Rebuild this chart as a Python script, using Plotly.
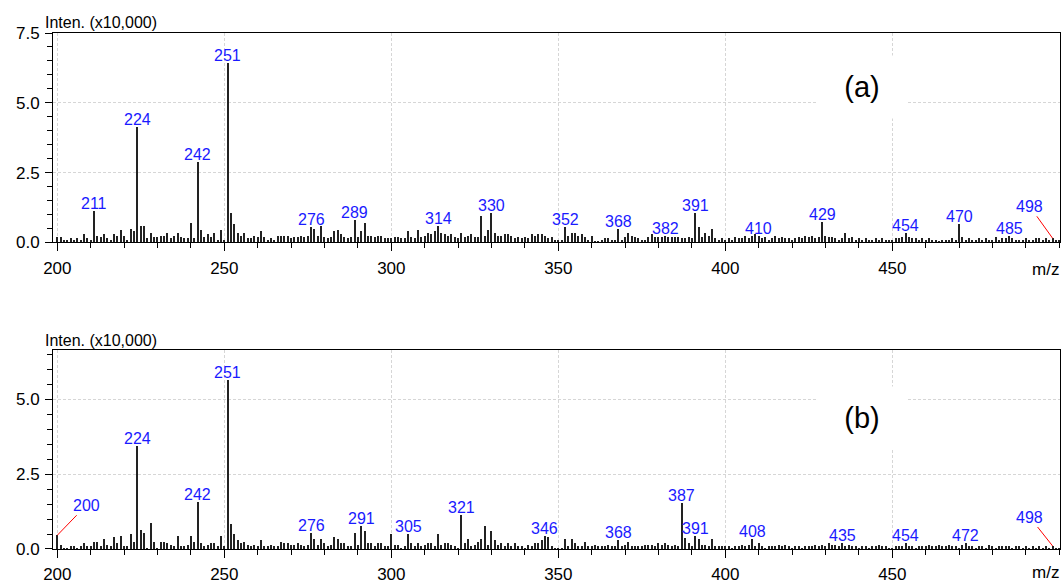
import plotly.graph_objects as go

# ---------------- data ----------------
mz = list(range(200, 501))

inten_a = [
    0.20, 0.20, 0.10, 0.10, 0.15, 0.10, 0.15, 0.10, 0.30, 0.15,  # 200
    0.10, 1.13, 0.25, 0.20, 0.30, 0.15, 0.10, 0.30, 0.25, 0.45,  # 210
    0.25, 0.10, 0.50, 0.40, 4.14, 0.60, 0.60, 0.15, 0.35, 0.20,  # 220
    0.20, 0.25, 0.25, 0.35, 0.15, 0.25, 0.35, 0.20, 0.15, 0.15,  # 230
    0.70, 0.15, 2.88, 0.45, 0.20, 0.30, 0.20, 0.35, 0.10, 0.45,  # 240
    0.10, 6.41, 1.04, 0.66, 0.35, 0.25, 0.35, 0.15, 0.15, 0.25,  # 250
    0.20, 0.40, 0.20, 0.10, 0.15, 0.10, 0.25, 0.25, 0.25, 0.25,  # 260
    0.15, 0.20, 0.20, 0.25, 0.20, 0.25, 0.55, 0.50, 0.25, 0.60,  # 270
    0.20, 0.15, 0.20, 0.40, 0.45, 0.30, 0.20, 0.15, 0.20, 0.80,  # 280
    0.20, 0.40, 0.70, 0.25, 0.25, 0.20, 0.25, 0.25, 0.15, 0.15,  # 290
    0.15, 0.20, 0.20, 0.15, 0.15, 0.40, 0.20, 0.15, 0.45, 0.20,  # 300
    0.25, 0.35, 0.30, 0.40, 0.60, 0.35, 0.30, 0.25, 0.30, 0.20,  # 310
    0.15, 0.35, 0.20, 0.25, 0.30, 0.20, 0.20, 0.95, 0.25, 0.45,  # 320
    1.04, 0.35, 0.25, 0.25, 0.30, 0.30, 0.25, 0.15, 0.20, 0.15,  # 330
    0.20, 0.15, 0.30, 0.25, 0.30, 0.30, 0.25, 0.15, 0.20, 0.10,  # 340
    0.10, 0.10, 0.55, 0.25, 0.35, 0.35, 0.25, 0.30, 0.20, 0.10,  # 350
    0.25, 0.05, 0.05, 0.10, 0.15, 0.15, 0.10, 0.10, 0.50, 0.10,  # 360
    0.20, 0.35, 0.25, 0.20, 0.15, 0.10, 0.10, 0.20, 0.30, 0.20,  # 370
    0.20, 0.20, 0.25, 0.20, 0.20, 0.20, 0.20, 0.15, 0.15, 0.20,  # 380
    0.15, 1.07, 0.55, 0.20, 0.35, 0.25, 0.50, 0.15, 0.10, 0.15,  # 390
    0.10, 0.15, 0.10, 0.20, 0.15, 0.15, 0.25, 0.15, 0.25, 0.30,  # 400
    0.25, 0.15, 0.20, 0.10, 0.15, 0.25, 0.15, 0.20, 0.15, 0.15,  # 410
    0.10, 0.15, 0.20, 0.15, 0.25, 0.20, 0.25, 0.15, 0.20, 0.72,  # 420
    0.25, 0.20, 0.20, 0.15, 0.10, 0.15, 0.35, 0.15, 0.20, 0.10,  # 430
    0.15, 0.10, 0.15, 0.10, 0.10, 0.15, 0.10, 0.15, 0.10, 0.10,  # 440
    0.10, 0.15, 0.15, 0.20, 0.33, 0.20, 0.15, 0.15, 0.10, 0.15,  # 450
    0.10, 0.15, 0.10, 0.10, 0.05, 0.10, 0.10, 0.10, 0.15, 0.10,  # 460
    0.68, 0.20, 0.10, 0.15, 0.10, 0.10, 0.15, 0.10, 0.15, 0.10,  # 470
    0.10, 0.20, 0.10, 0.15, 0.15, 0.25, 0.15, 0.10, 0.10, 0.10,  # 480
    0.15, 0.10, 0.10, 0.15, 0.15, 0.10, 0.15, 0.10, 0.15, 0.10,  # 490
    0.10,                                                        # 500
]

inten_b = [
    0.46, 0.15, 0.05, 0.05, 0.10, 0.10, 0.05, 0.10, 0.20, 0.10,  # 200
    0.10, 0.25, 0.25, 0.10, 0.35, 0.15, 0.10, 0.40, 0.20, 0.45,  # 210
    0.10, 0.10, 0.50, 0.25, 3.43, 0.65, 0.55, 0.05, 0.87, 0.25,  # 220
    0.05, 0.25, 0.25, 0.20, 0.15, 0.10, 0.45, 0.10, 0.10, 0.15,  # 230
    0.45, 0.25, 1.57, 0.20, 0.10, 0.15, 0.20, 0.20, 0.10, 0.45,  # 240
    0.10, 5.66, 0.85, 0.50, 0.30, 0.20, 0.25, 0.15, 0.10, 0.15,  # 250
    0.10, 0.30, 0.10, 0.10, 0.15, 0.10, 0.10, 0.25, 0.20, 0.20,  # 260
    0.15, 0.15, 0.20, 0.15, 0.10, 0.15, 0.55, 0.35, 0.15, 0.35,  # 270
    0.20, 0.10, 0.15, 0.40, 0.35, 0.20, 0.20, 0.10, 0.10, 0.52,  # 280
    0.15, 0.76, 0.60, 0.20, 0.20, 0.10, 0.20, 0.20, 0.10, 0.10,  # 290
    0.50, 0.15, 0.15, 0.05, 0.10, 0.50, 0.20, 0.10, 0.20, 0.10,  # 300
    0.15, 0.20, 0.20, 0.10, 0.50, 0.15, 0.20, 0.20, 0.15, 0.10,  # 310
    0.05, 1.15, 0.20, 0.35, 0.10, 0.15, 0.25, 0.35, 0.78, 0.15,  # 320
    0.60, 0.30, 0.15, 0.20, 0.10, 0.20, 0.10, 0.20, 0.10, 0.10,  # 330
    0.05, 0.15, 0.10, 0.20, 0.20, 0.30, 0.42, 0.40, 0.10, 0.05,  # 340
    0.05, 0.05, 0.35, 0.10, 0.35, 0.20, 0.10, 0.10, 0.25, 0.10,  # 350
    0.10, 0.15, 0.10, 0.10, 0.10, 0.15, 0.10, 0.10, 0.30, 0.10,  # 360
    0.15, 0.25, 0.10, 0.10, 0.10, 0.10, 0.15, 0.15, 0.15, 0.10,  # 370
    0.20, 0.15, 0.20, 0.15, 0.10, 0.15, 0.10, 1.53, 0.37, 0.20,  # 380
    0.10, 0.42, 0.35, 0.15, 0.15, 0.10, 0.35, 0.10, 0.10, 0.10,  # 390
    0.10, 0.10, 0.05, 0.10, 0.10, 0.15, 0.10, 0.15, 0.33, 0.10,  # 400
    0.20, 0.10, 0.05, 0.10, 0.10, 0.10, 0.15, 0.10, 0.15, 0.10,  # 410
    0.05, 0.10, 0.10, 0.05, 0.10, 0.10, 0.10, 0.15, 0.10, 0.15,  # 420
    0.10, 0.20, 0.15, 0.15, 0.10, 0.20, 0.10, 0.15, 0.10, 0.10,  # 430
    0.05, 0.10, 0.10, 0.05, 0.10, 0.10, 0.15, 0.10, 0.10, 0.05,  # 440
    0.05, 0.10, 0.10, 0.10, 0.20, 0.10, 0.10, 0.05, 0.10, 0.10,  # 450
    0.10, 0.15, 0.10, 0.10, 0.15, 0.10, 0.10, 0.15, 0.10, 0.10,  # 460
    0.05, 0.15, 0.20, 0.10, 0.10, 0.05, 0.10, 0.10, 0.05, 0.15,  # 470
    0.10, 0.05, 0.10, 0.10, 0.10, 0.10, 0.05, 0.10, 0.10, 0.05,  # 480
    0.10, 0.05, 0.10, 0.05, 0.10, 0.05, 0.10, 0.05, 0.10, 0.05,  # 490
    0.05,                                                        # 500
]

labels_a = [211, 224, 242, 251, 276, 289, 314, 330, 352, 368, 382, 391,
            410, 429, 454, 470, 485]
labels_b = [224, 242, 251, 276, 291, 305, 321, 346, 368, 387, 391, 408,
            435, 454, 472]
# labels joined to their peak with a red leader line: (m/z, dx px, dy px)
leader_a = [(498, -23, -32)]
leader_b = [(200, 29, -30), (498, -23, -29)]

x_ticks = [200, 250, 300, 350, 400, 450]

assert len(inten_a) == len(mz) and len(inten_b) == len(mz)

# ---------------- figure ----------------
FONT = "Liberation Sans, Arial, sans-serif"
BLUE = "#1a1aff"
STICK = "#222222"

fig = go.Figure()
fig.add_trace(go.Bar(x=mz, y=inten_a, width=0.35, marker=dict(color=STICK, line=dict(width=0)),
                     xaxis="x", yaxis="y", showlegend=False))
fig.add_trace(go.Bar(x=mz, y=inten_b, width=0.35, marker=dict(color=STICK, line=dict(width=0)),
                     xaxis="x2", yaxis="y2", showlegend=False))

xcommon = dict(range=[198.7, 500.2], tickmode="array", tickvals=x_ticks,
               ticks="outside", ticklen=8, tickcolor="black", tickwidth=1,
               minor=dict(tickmode="linear", tick0=200, dtick=10, ticks="outside",
                          ticklen=5, tickcolor="black", showgrid=False),
               showline=True, linecolor="black", linewidth=1, mirror=True,
               showgrid=True, gridcolor="#d6d6d6", griddash="3px,2px", gridwidth=1,
               zeroline=False, tickfont=dict(size=17, color="black", family=FONT),
               ticklabelstandoff=2, automargin=False)
ycommon = dict(ticks="outside", ticklen=7, tickcolor="black", dtick=2.5, tick0=0,
               tickformat=".1f",
               minor=dict(dtick=0.5, ticks="outside", ticklen=5, tickcolor="black",
                          showgrid=False),
               showline=True, linecolor="black", linewidth=1, mirror=True,
               showgrid=True, gridcolor="#d6d6d6", griddash="3px,2px", gridwidth=1,
               zeroline=False, tickfont=dict(size=17, color="black", family=FONT),
               ticklabelstandoff=2, automargin=False)

fig.update_layout(
    width=1064, height=583,
    margin=dict(l=53, r=4, t=33, b=34),
    paper_bgcolor="white", plot_bgcolor="white",
    bargap=0, showlegend=False,
    font=dict(family=FONT, color="black"),
    xaxis=dict(xcommon, anchor="y"),
    yaxis=dict(ycommon, domain=[0.594, 1.0], range=[0, 7.5], anchor="x"),
    xaxis2=dict(xcommon, anchor="y2"),
    yaxis2=dict(ycommon, domain=[0.0, 0.3857], range=[0, 6.65], anchor="x2"),
)

ann = []
for labs, vals, xr, yr in [(labels_a, inten_a, "x", "y"), (labels_b, inten_b, "x2", "y2")]:
    for m in labs:
        ann.append(dict(x=m, y=vals[m - 200], xref=xr, yref=yr, text=str(m),
                        showarrow=False, yanchor="bottom", yshift=-3,
                        font=dict(size=16, color=BLUE, family=FONT)))
for leads, vals, xr, yr in [(leader_a, inten_a, "x", "y"), (leader_b, inten_b, "x2", "y2")]:
    for m, dx, dy in leads:
        ann.append(dict(x=m, y=vals[m - 200], xref=xr, yref=yr, text=str(m),
                        showarrow=True, arrowhead=0, arrowwidth=1, arrowcolor="red",
                        ax=dx, ay=dy, standoff=0,
                        font=dict(size=16, color=BLUE, family=FONT)))

# axis captions
for ytop, ym in [(1.021, 0.5426), (0.405, -0.0465)]:
    ann.append(dict(x=-0.0102, y=ytop, xref="paper", yref="paper", text="Inten. (x10,000)",
                    showarrow=False, xanchor="left", yanchor="middle",
                    font=dict(size=16, color="black", family=FONT)))
    ann.append(dict(x=0.986, y=ym, xref="paper", yref="paper", text="m/z",
                    showarrow=False, xanchor="center", yanchor="middle",
                    font=dict(size=17, color="black", family=FONT)))

# panel tags
for tag, yy in [("(a)", 0.895), ("(b)", 0.254)]:
    ann.append(dict(x=0.803, y=yy, xref="paper", yref="paper", text=tag,
                    showarrow=False, xanchor="center", yanchor="middle",
                    bgcolor="white", width=90, height=62, borderpad=0,
                    font=dict(size=29, color="black", family=FONT)))

fig.update_layout(annotations=ann)
fig.write_html("out.html", config={"displayModeBar": False},
               post_script="document.body.style.margin='0';document.body.style.overflow='hidden';")
